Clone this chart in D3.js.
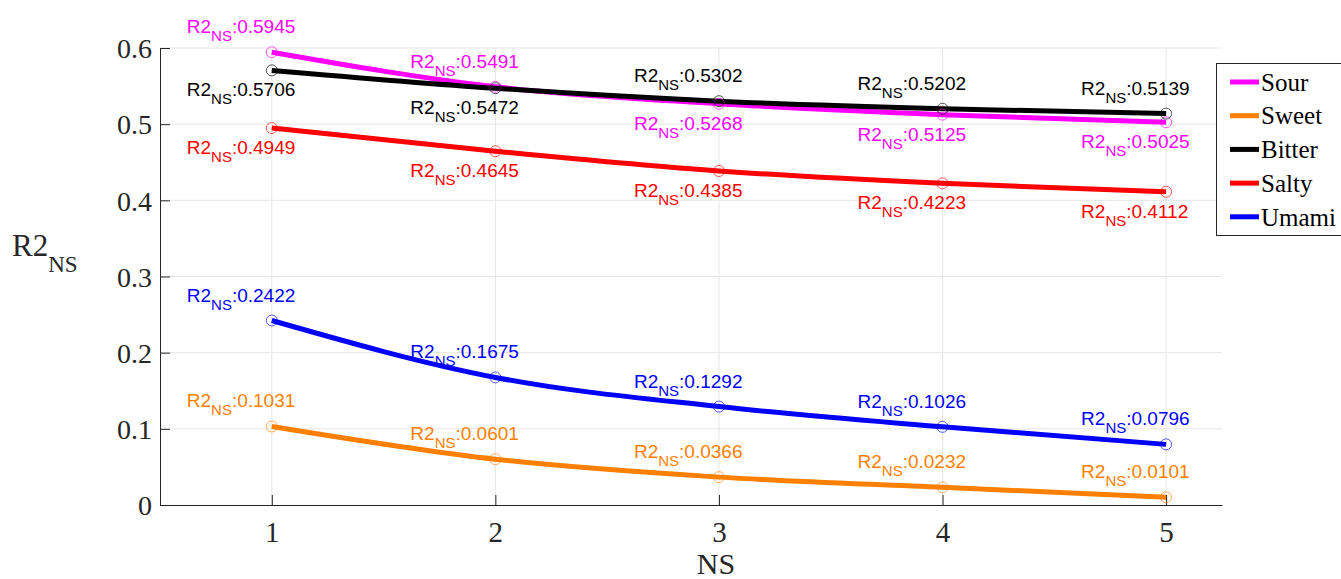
<!DOCTYPE html>
<html>
<head>
<meta charset="utf-8">
<script src="https://cdn.jsdelivr.net/npm/d3@7"></script>
<style>
  body { margin: 0; background: #fff; }
  #chart { width: 1341px; height: 579px; }
  .tick text { font-family: "Liberation Serif", "Times New Roman", serif; }
</style>
</head>
<body>
<div id="chart"></div>
<script>
// data
const nsValues = [1, 2, 3, 4, 5];
const seriesNames = ["Sour", "Sweet", "Bitter", "Salty", "Umami"];
const seriesColors = ["#ff00ff", "#ff8000", "#000000", "#ff0000", "#0000ff"];
const sour   = [0.5945, 0.5491, 0.5268, 0.5125, 0.5025];
const sweet  = [0.1031, 0.0601, 0.0366, 0.0232, 0.0101];
const bitter = [0.5706, 0.5472, 0.5302, 0.5202, 0.5139];
const salty  = [0.4949, 0.4645, 0.4385, 0.4223, 0.4112];
const umami  = [0.2422, 0.1675, 0.1292, 0.1026, 0.0796];
// label above (1) or below (-1) the point
const sourPos   = [1, 1, -1, -1, -1];
const sweetPos  = [1, 1, 1, 1, 1];
const bitterPos = [-1, -1, 1, 1, 1];
const saltyPos  = [-1, -1, -1, -1, -1];
const umamiPos  = [1, 1, 1, 1, 1];
const yTicks = [0, 0.1, 0.2, 0.3, 0.4, 0.5, 0.6];

const allSeries = [sour, sweet, bitter, salty, umami];
const allPos = [sourPos, sweetPos, bitterPos, saltyPos, umamiPos];

const width = 1341, height = 579;
const margin = {top: 48, left: 160, right: 119, bottom: 74};

const svg = d3.select("#chart").append("svg")
    .attr("width", width)
    .attr("height", height);

const xScale = d3.scaleLinear()
    .domain([0.5, 5.25])
    .range([margin.left, width - margin.right]);

const yScale = d3.scaleLinear()
    .domain([0, 0.6])
    .range([height - margin.bottom, margin.top]);

// grid
svg.append("g").selectAll("line")
    .data(yTicks.slice(1))
    .enter().append("line")
    .attr("x1", margin.left).attr("x2", width - margin.right)
    .attr("y1", d => yScale(d)).attr("y2", d => yScale(d))
    .attr("stroke", "#e6e6e6").attr("stroke-width", 1);

svg.append("g").selectAll("line")
    .data(nsValues)
    .enter().append("line")
    .attr("x1", d => xScale(d)).attr("x2", d => xScale(d))
    .attr("y1", yScale(0)).attr("y2", yScale(0.6))
    .attr("stroke", "#e6e6e6").attr("stroke-width", 1);

// axes, ticks pointing inward
const xAxis = svg.append("g")
    .attr("transform", `translate(0,${yScale(0)})`)
    .call(d3.axisBottom(xScale).tickValues(nsValues).tickSize(-10).tickPadding(16)
        .tickSizeOuter(0).tickFormat(d3.format("d")));
xAxis.select(".domain").attr("stroke", "#262626");
xAxis.selectAll(".tick line").attr("stroke", "#262626");
xAxis.selectAll("text").attr("font-size", 29).attr("fill", "#262626");

const yAxis = svg.append("g")
    .attr("transform", `translate(${margin.left},0)`)
    .call(d3.axisLeft(yScale).tickValues(yTicks).tickSize(-10).tickPadding(8).tickSizeOuter(0)
        .tickFormat(d => d === 0 ? "0" : d3.format(".1f")(d)));
yAxis.select(".domain").attr("stroke", "#262626");
yAxis.selectAll(".tick line").attr("stroke", "#262626");
yAxis.selectAll("text").attr("font-size", 28).attr("fill", "#262626").attr("dy", "0.35em");

// lines
const line = d3.line()
    .x((d, i) => xScale(nsValues[i]))
    .y(d => yScale(d))
    .curve(d3.curveMonotoneX);

allSeries.forEach(function(s, k) {
    svg.append("path")
        .datum(s)
        .attr("d", line)
        .attr("fill", "none")
        .attr("stroke", seriesColors[k])
        .attr("stroke-width", 5)
        .attr("stroke-linejoin", "round");
});

allSeries.forEach(function(s, k) {
    svg.append("g").selectAll("circle")
        .data(s)
        .enter().append("circle")
        .attr("cx", (d, i) => xScale(nsValues[i]))
        .attr("cy", d => yScale(d))
        .attr("r", 5.5)
        .attr("fill", "none")
        .attr("stroke", seriesColors[k])
        .attr("stroke-opacity", 0.65)
        .attr("stroke-width", 1);
});

// point labels
allSeries.forEach(function(s, k) {
    const labels = svg.append("g").selectAll("text")
        .data(s)
        .enter().append("text")
        .attr("x", (d, i) => xScale(nsValues[i]) - 85)
        .attr("y", (d, i) => yScale(d) + (allPos[k][i] > 0 ? -19 : 26))
        .attr("font-family", "Liberation Sans, Arial, sans-serif")
        .attr("font-size", 19)
        .attr("fill", seriesColors[k]);
    labels.append("tspan").text("R2");
    labels.append("tspan").attr("dy", 8).attr("font-size", 15).text("NS");
    labels.append("tspan").attr("dy", -8).text(d => ":" + d.toFixed(4));
});

// axis labels
svg.append("text")
    .attr("x", xScale(3) - 3)
    .attr("y", 574)
    .attr("text-anchor", "middle")
    .attr("font-family", "Liberation Serif, Times New Roman, serif")
    .attr("font-size", 30)
    .attr("fill", "#262626")
    .text("NS");

const yLabel = svg.append("text")
    .attr("x", 12)
    .attr("y", 256)
    .attr("font-family", "Liberation Serif, Times New Roman, serif")
    .attr("font-size", 31)
    .attr("fill", "#262626");
yLabel.append("tspan").text("R2");
yLabel.append("tspan").attr("dy", 16).attr("font-size", 23).text("NS");

// legend
const legend = svg.append("g").attr("transform", "translate(1216,63)");
legend.append("rect")
    .attr("x", 0.5).attr("y", 0.5)
    .attr("width", 140).attr("height", 172)
    .attr("fill", "#fff")
    .attr("stroke", "#262626").attr("stroke-width", 1);

const entries = legend.selectAll("g.entry")
    .data(seriesNames)
    .enter().append("g")
    .attr("transform", (d, i) => `translate(0,${19 + i * 33.7})`);
entries.append("line")
    .attr("x1", 14).attr("x2", 43)
    .attr("stroke", (d, i) => seriesColors[i])
    .attr("stroke-width", 5);
entries.append("text")
    .attr("x", 45)
    .attr("dy", "0.35em")
    .attr("font-family", "Liberation Serif, Times New Roman, serif")
    .attr("font-size", 25)
    .attr("fill", "#000")
    .text(d => d);
</script>
</body>
</html>
